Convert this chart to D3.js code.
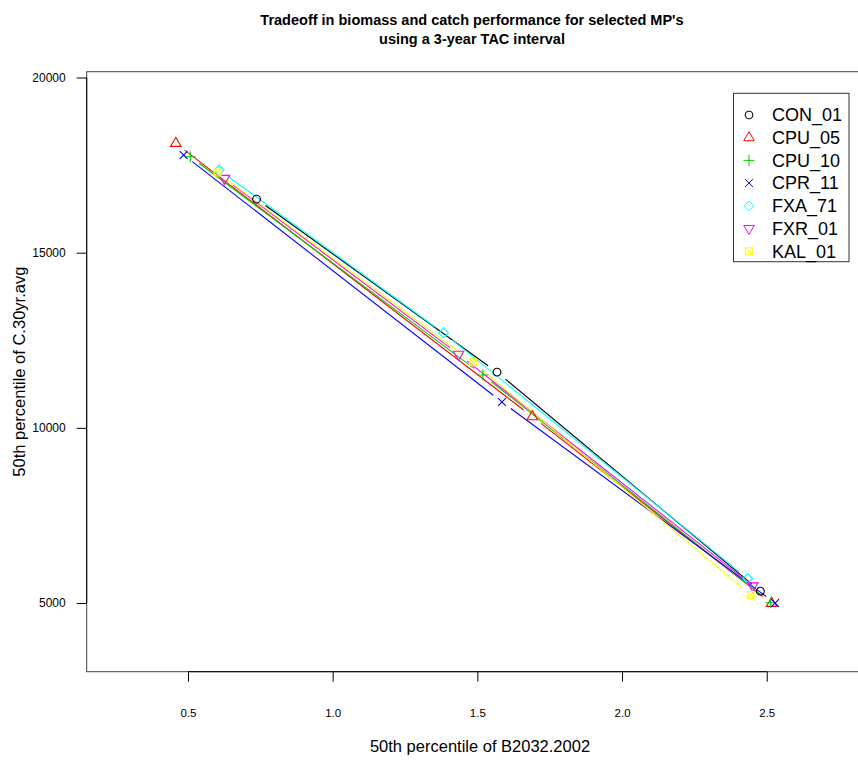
<!DOCTYPE html>
<meta charset="utf-8">
<style>
body { margin: 0; background: #fff; }
svg { font-family: "Liberation Sans", Arial, sans-serif; }
.axis text { font-size: 11.5px; fill: #000; }
.axis line { stroke: #000; }
</style>
<svg width="858" height="760"></svg>
<script src="https://d3js.org/d3.v7.min.js"></script>
<script>

// management procedures and their colours / symbols
var mps = ["CON_01", "CPU_05", "CPU_10", "CPR_11", "FXA_71", "FXR_01", "KAL_01"];
var colors = ["#000000", "#FF0000", "#00CD00", "#0000FF", "#00FFFF", "#FF00FF", "#FFFF00"];
var pchs = [1, 2, 3, 4, 5, 6, 7];

// 50th percentile of B2032.2002 (x), one array per MP
var bCON_01 = [0.737, 1.568, 2.478];
var bCPU_05 = [0.458, 1.690, 2.517];
var bCPU_10 = [0.508, 1.519, 2.514];
var bCPR_11 = [0.485, 1.585, 2.529];
var bFXA_71 = [0.608, 1.383, 2.434];
var bFXR_01 = [0.626, 1.435, 2.452];
var bKAL_01 = [0.602, 1.485, 2.445];

// 50th percentile of C.30yr.avg (y)
var cCON_01 = [16530, 11590, 5340];
var cCPU_05 = [18120, 10320, 4990];
var cCPU_10 = [17740, 11510, 5010];
var cCPR_11 = [17790, 10740, 5000];
var cFXA_71 = [17360, 12710, 5700];
var cFXR_01 = [17120, 12100, 5490];
var cKAL_01 = [17290, 11870, 5230];

var xTicks = [0.5, 1.0, 1.5, 2.0, 2.5];
var yTicks = [5000, 10000, 15000, 20000];

var biomass = [bCON_01, bCPU_05, bCPU_10, bCPR_11, bFXA_71, bFXR_01, bKAL_01];
var catches = [cCON_01, cCPU_05, cCPU_10, cCPR_11, cFXA_71, cFXR_01, cKAL_01];

var svg = d3.select("svg");

var plotL = 86.7, plotR = 868, plotT = 71.7, plotB = 671.7;

var x = d3.scaleLinear().domain([0.15, 2.85]).range([plotL, plotR]);
var y = d3.scaleLinear().domain([3040, 20166]).range([plotB, plotT]);

// R style point symbols, R = radius in px
var R = 3.9;
function symbol(pch, cx, cy) {
  var p = d3.path();
  if (pch === 1) {
    p.moveTo(cx + R, cy); p.arc(cx, cy, R, 0, 2 * Math.PI);
  } else if (pch === 2 || pch === 6) {
    var r = 1.5551 * R, yc = 0.7776 * R, xc = 1.3468 * R, s = pch === 2 ? 1 : -1;
    p.moveTo(cx, cy - s * r); p.lineTo(cx + xc, cy + s * yc); p.lineTo(cx - xc, cy + s * yc); p.closePath();
  } else if (pch === 3) {
    var a = Math.SQRT2 * R;
    p.moveTo(cx - a, cy); p.lineTo(cx + a, cy); p.moveTo(cx, cy - a); p.lineTo(cx, cy + a);
  } else if (pch === 4) {
    p.moveTo(cx - R, cy - R); p.lineTo(cx + R, cy + R); p.moveTo(cx - R, cy + R); p.lineTo(cx + R, cy - R);
  } else if (pch === 5) {
    var d = 1.2533 * R;
    p.moveTo(cx - d, cy); p.lineTo(cx, cy - d); p.lineTo(cx + d, cy); p.lineTo(cx, cy + d); p.closePath();
  } else if (pch === 7) {
    var q = 0.8862 * R;
    p.rect(cx - q, cy - q, 2 * q, 2 * q);
    p.moveTo(cx - q, cy - q); p.lineTo(cx + q, cy + q); p.moveTo(cx - q, cy + q); p.lineTo(cx + q, cy - q);
  }
  return p.toString();
}

// plot box
svg.append("rect")
    .attr("x", plotL).attr("y", plotT)
    .attr("width", plotR - plotL).attr("height", plotB - plotT)
    .attr("fill", "none").attr("stroke", "#444").attr("stroke-width", 1);

// type="b" lines: segments with a gap round each point
var gap = 11;
var lines = svg.append("g").attr("fill", "none").attr("stroke-width", 1.1);
mps.forEach(function(mp, i) {
  var pts = biomass[i].map(function(b, j) { return [x(b), y(catches[i][j])]; });
  for (var j = 0; j < pts.length - 1; j++) {
    var p0 = pts[j], p1 = pts[j + 1];
    var dx = p1[0] - p0[0], dy = p1[1] - p0[1], len = Math.sqrt(dx * dx + dy * dy);
    if (len <= 2 * gap) continue;
    var ux = dx / len, uy = dy / len;
    lines.append("line")
        .attr("x1", p0[0] + ux * gap).attr("y1", p0[1] + uy * gap)
        .attr("x2", p1[0] - ux * gap).attr("y2", p1[1] - uy * gap)
        .attr("stroke", colors[i]);
  }
});

var points = svg.append("g").attr("fill", "none").attr("stroke-width", 1.1);
mps.forEach(function(mp, i) {
  points.selectAll(null)
    .data(biomass[i].map(function(b, j) { return {b: b, c: catches[i][j]}; }))
    .enter().append("path")
      .attr("d", function(d) { return symbol(pchs[i], x(d.b), y(d.c)); })
      .attr("stroke", colors[i]);
});

// axes
var xAxis = svg.append("g")
    .attr("class", "axis")
    .attr("transform", "translate(0," + plotB + ")")
    .call(d3.axisBottom(x).tickValues(xTicks).tickFormat(d3.format(".1f")).tickSize(10).tickPadding(27));
xAxis.select(".domain").remove();
xAxis.append("line")
    .attr("x1", x(xTicks[0])).attr("x2", x(xTicks[xTicks.length - 1]))
    .attr("stroke", "#000");

var yAxis = svg.append("g")
    .attr("class", "axis")
    .attr("transform", "translate(" + plotL + ",0)")
    .call(d3.axisLeft(y).tickValues(yTicks).tickFormat(d3.format("d")).tickSize(10).tickPadding(11));
yAxis.select(".domain").remove();
yAxis.append("line")
    .attr("y1", y(yTicks[0])).attr("y2", y(yTicks[yTicks.length - 1]))
    .attr("stroke", "#000");
yAxis.selectAll("text").style("font-size", "12px");

// titles
svg.append("text")
    .attr("x", 472).attr("y", 25)
    .attr("text-anchor", "middle")
    .style("font-size", "14.5px").style("font-weight", "bold")
    .text("Tradeoff in biomass and catch performance for selected MP's");
svg.append("text")
    .attr("x", 472).attr("y", 44)
    .attr("text-anchor", "middle")
    .style("font-size", "14.5px").style("font-weight", "bold")
    .text("using a 3-year TAC interval");

svg.append("text")
    .attr("x", 480).attr("y", 752)
    .attr("text-anchor", "middle")
    .style("font-size", "16.5px")
    .text("50th percentile of B2032.2002");

svg.append("text")
    .attr("transform", "translate(25," + ((plotT + plotB) / 2) + ") rotate(-90)")
    .attr("text-anchor", "middle")
    .style("font-size", "16.5px")
    .text("50th percentile of C.30yr.avg");

// legend
var legend = svg.append("g");
legend.append("rect")
    .attr("x", 733.5).attr("y", 93.3)
    .attr("width", 115.5).attr("height", 168.4)
    .attr("fill", "#fff").attr("stroke", "#333");
mps.forEach(function(mp, i) {
  var ly = 115 + i * 22.7;
  legend.append("path")
      .attr("d", symbol(pchs[i], 749, ly))
      .attr("fill", "none").attr("stroke", colors[i]);
  legend.append("text")
      .attr("x", 772).attr("y", ly)
      .attr("dy", "0.35em")
      .style("font-size", "18px")
      .text(mp);
});

</script>
